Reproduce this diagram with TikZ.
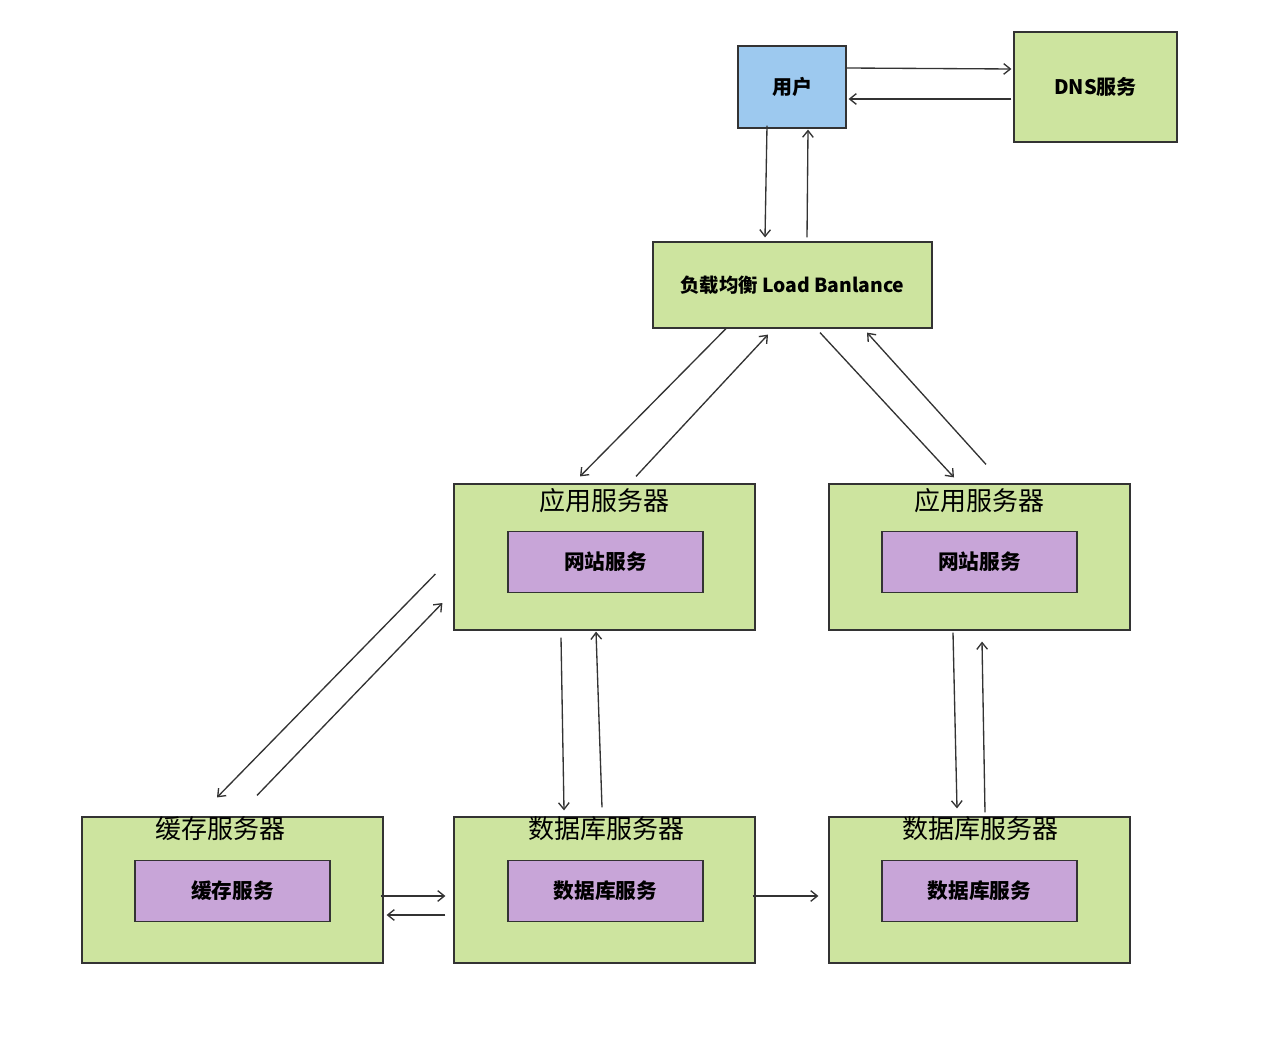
\documentclass[tikz,border=0pt]{standalone}
\usepackage{fontspec}
\setmainfont{Noto Sans CJK SC}
\usetikzlibrary{calc,arrows.meta}
\definecolor{boxgreen}{RGB}{205,228,159}
\definecolor{boxblue}{RGB}{157,201,239}
\definecolor{boxpurple}{RGB}{200,165,216}
\definecolor{linegray}{RGB}{51,51,51}

\begin{document}
\begin{tikzpicture}[x=0.75pt,y=0.75pt,yscale=-1,xscale=1,
	box/.style={draw=linegray,line width=0.9pt,rectangle,inner sep=0pt},
	serverbox/.style={box,fill=boxgreen,minimum width=225.75pt,minimum height=109.5pt},
	servicebox/.style={box,fill=boxpurple,minimum width=146.25pt,minimum height=45.75pt,font=\bfseries\fontsize{15.5pt}{18pt}\selectfont},
	servertitle/.style={inner sep=0pt,font=\fontsize{19.5pt}{22pt}\selectfont},
	flow/.style={draw=linegray,line width=1pt,-{Straight Barb[length=5pt,width=8pt,line width=1pt]}}]
	\useasboundingbox (0,0) rectangle (1281,1062);

	% top row
	\node[box,fill=boxblue,minimum width=81pt,minimum height=61.5pt,font=\bfseries\fontsize{15pt}{18pt}\selectfont] (user) at (792,87) {用户};
	\node[box,fill=boxgreen,minimum width=122.25pt,minimum height=82.5pt,font=\bfseries\fontsize{15pt}{18pt}\selectfont] (dns) at (1095.5,87) {DNS服务};
	\node[box,fill=boxgreen,minimum width=209.25pt,minimum height=64.5pt,font=\bfseries\fontsize{14.5pt}{18pt}\selectfont] (lb) at (792.5,285) {负载均衡 Load Banlance};

	% application servers
	\node[serverbox] (app1) at (604.5,557) {};
	\node[servertitle] (app1title) at ($(app1.north)+(0,17)$) {应用服务器};
	\node[servicebox] (web1) at (605.5,562) {网站服务};
	\node[serverbox] (app2) at (979.5,557) {};
	\node[servertitle] (app2title) at ($(app2.north)+(0,17)$) {应用服务器};
	\node[servicebox] (web2) at (979.5,562) {网站服务};

	% bottom row
	\node[serverbox] (cache) at (232.5,890) {};
	\node[servertitle] (cachetitle) at ($(cache.north)+(-12.5,12)$) {缓存服务器};
	\node[servicebox] (cachesvc) at (232.5,891) {缓存服务};
	\node[serverbox] (db1) at (604.5,890) {};
	\node[servertitle] (db1title) at ($(db1.north)+(1.5,12)$) {数据库服务器};
	\node[servicebox] (db1svc) at (605.5,891) {数据库服务};
	\node[serverbox] (db2) at (979.5,890) {};
	\node[servertitle] (db2title) at ($(db2.north)+(0.5,12)$) {数据库服务器};
	\node[servicebox] (db2svc) at (979.5,891) {数据库服务};

	% connectors
	\draw[flow] ($(user.east)+(0,-19)$) -- ($(dns.west)+(-2,-18)$);
	\draw[flow] ($(dns.west)+(-2,12)$) -- ($(user.east)+(2,12)$);
	\draw[flow] ($(user.south)+(-25,-3)$) -- ($(lb.north)+(-27.5,-4)$);
	\draw[flow] ($(lb.north)+(14.5,-4)$) -- ($(user.south)+(16,1)$);
	\draw[flow] ($(lb.south)+(-66.5,0)$) -- ($(app1.north)+(-24.5,-7)$);
	\draw[flow] ($(app1.north)+(31.5,-7)$) -- ($(lb.south)+(-24.5,6)$);
	\draw[flow] ($(lb.south)+(27.5,4)$) -- ($(app2.north)+(-25.5,-6)$);
	\draw[flow] ($(app2.north)+(6.5,-19)$) -- ($(lb.south)+(74.5,4)$);
	\draw[flow] ($(app1.west)+(-18,17)$) -- ($(cache.north)+(-15.5,-19)$);
	\draw[flow] ($(cache.north)+(24.5,-21)$) -- ($(app1.west)+(-11,46)$);
	\draw[flow] ($(app1.south)+(-43.5,7)$) -- ($(db1.north)+(-40.5,-6)$);
	\draw[flow] ($(db1.north)+(-2.5,-9)$) -- ($(app1.south)+(-8.5,1)$);
	\draw[flow] ($(app2.south)+(-26.5,2)$) -- ($(db2.north)+(-22.5,-8)$);
	\draw[flow] ($(db2.north)+(5.5,-4)$) -- ($(app2.south)+(2.5,11)$);
	\draw[flow] ($(cache.east)+(-3,6)$) -- ($(db1.west)+(-8,6)$);
	\draw[flow] ($(db1.west)+(-8,25)$) -- ($(cache.east)+(3,25)$);
	\draw[flow] ($(db1.east)+(-3,6)$) -- ($(db2.west)+(-10,6)$);
\end{tikzpicture}
\end{document}
